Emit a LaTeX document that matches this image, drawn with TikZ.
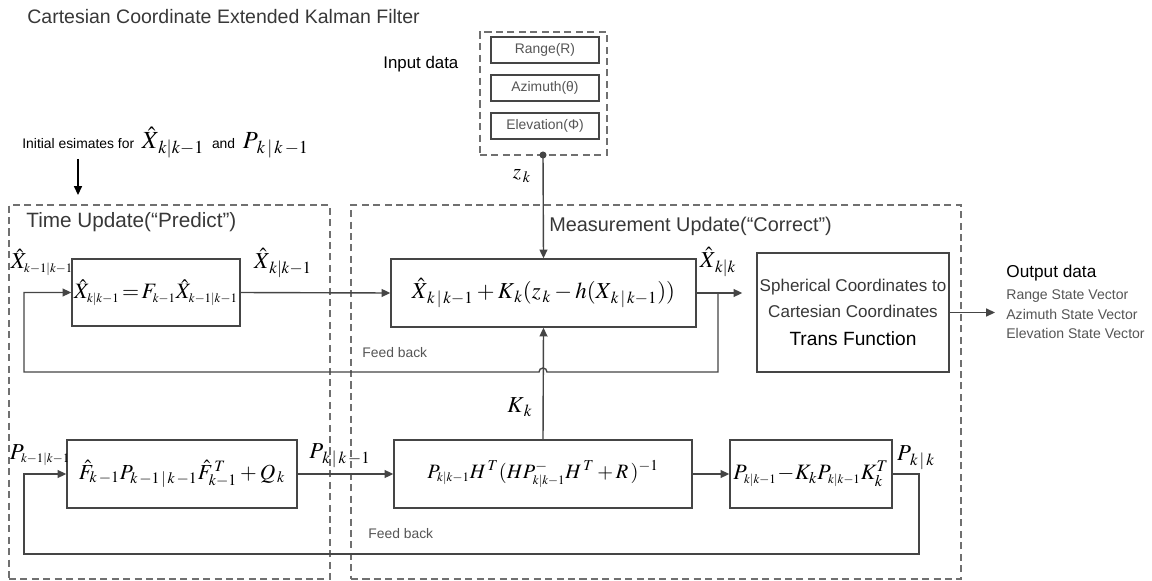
\documentclass[tikz,border=0pt]{standalone}
\usepackage{mathptmx}
\usepackage[no-math]{fontspec}
\setmainfont{Liberation Sans}
\usetikzlibrary{arrows.meta}
\definecolor{lineclr}{HTML}{454545}
\definecolor{grpclr}{HTML}{707070}
\definecolor{headclr}{HTML}{383838}
\definecolor{softclr}{HTML}{555555}
\newcommand{\fsz}[1]{\fontsize{#1}{#1}\selectfont}
\newcommand{\tsub}[1]{\mbox{\fsz{7.3}$#1$}}

\begin{document}
\begin{tikzpicture}[x=0.02cm,y=-0.02cm,>={Triangle[length=5pt,width=4.5pt]},
  blk/.style={draw=lineclr,thick,fill=white,inner sep=0pt},
  grp/.style={draw=grpclr,thick,dash pattern=on 4pt off 2.5pt,inner sep=0pt},
  inbx/.style={draw=lineclr,semithick,inner sep=0pt,minimum width=2.16cm,minimum height=0.52cm,text=softclr,font=\fsz{7.9}},
  link/.style={draw=lineclr,thick,->},
  lbl/.style={inner sep=0pt,font=\fsz{13}},
  head/.style={anchor=west,inner sep=0pt,text=headclr,font=\fsz{11.3}},
  fbtxt/.style={anchor=west,inner sep=0pt,text=softclr,font=\fsz{7.9}},
  outtxt/.style={anchor=west,inner sep=0pt,text=softclr,font=\fsz{8}}]
  \useasboundingbox (0,0) rectangle (1152,581);

  \node[head,font=\fsz{11.1}] (title) at (27,17){Cartesian Coordinate Extended Kalman Filter};

  % input data
  \node[anchor=west,inner sep=0pt,font=\fsz{9.6}] (inlbl) at (383,64){Input data};
  \node[grp,minimum width=2.54cm,minimum height=2.46cm] (inbox) at (543.5,93.5){};
  \node[inbx] (range) at (545,50){Range(R)};
  \node[inbx] (azim) at (545,88){Azimuth(θ)};
  \node[inbx] (elev) at (545,126){Elevation(Φ)};
  \coordinate (zdot) at (543,155);
  \fill[lineclr] (zdot) circle (2pt);
  \node[lbl,font=\fsz{12}] (zlbl) at (522,176){$z_{\,k}$};

  \node[anchor=west,inner sep=0pt,font=\fsz{7.9}] (init) at (22,143){Initial esimates for\ \ {\fsz{14}$\hat{X}_{\,k|k-1}$}\ \ and\ \ {\fsz{14}$P_{\,k\,|\,k\,-1}$}};
  \coordinate (initend) at (78,195);
  \draw[->,thick] (init.south -| initend) -- (initend);

  % update groups
  \node[grp,minimum width=6.42cm,minimum height=7.48cm] (tubox) at (169.5,392){};
  \node[grp,minimum width=12.2cm,minimum height=7.48cm] (mubox) at (656,392){};
  \node[head,font=\fsz{11.8}] (tulbl) at (26,222){Time Update(“Predict”)};
  \node[head] (mulbl) at (549,226){Measurement Update(“Correct”)};

  % state row
  \node[blk,minimum width=3.36cm,minimum height=1.34cm] (predbox) at (156,292.5){\fsz{12.5}$\hat{X}_{\tsub{k|k{-}1}}\!=\!F_{\tsub{k{-}1}}\hat{X}_{\tsub{k{-}1|k{-}1}}$};
  \node[blk,minimum width=6.1cm,minimum height=1.36cm] (measbox) at (543.5,293){\fsz{13}$\hat{X}_{\,k\,|\,k-1}+K_{\,k}(z_{\,k}-h(X_{\,k\,|\,k-1}))$};
  \node[blk,minimum width=3.84cm,minimum height=2.38cm,align=center] (transbox) at (853,312.5){{\fsz{9.7}\color{headclr}Spherical Coordinates to}\\[3pt]{\fsz{9.7}\color{headclr}Cartesian Coordinates}\\[4pt]{\fsz{10.9}Trans Function}};
  \node[lbl] (xprev) at (42,262){$\hat{X}_{\tsub{k{-}1|k{-}1}}$};
  \node[lbl] (xpred) at (283,263){$\hat{X}_{\,k|k-1}$};
  \node[lbl] (xest) at (718,262){$\hat{X}_{\,k|k}$};

  % covariance row
  \node[blk,minimum width=4.6cm,minimum height=1.36cm] (covbox) at (182,474){\fsz{12.2}$\hat{F}_{k\,-1}P_{k\,-1\,|\,k\,-1}\hat{F}^{\,T}_{k-1}+Q_{\,k}$};
  \node[blk,minimum width=5.96cm,minimum height=1.36cm] (gainbox) at (543,474){\fsz{11.6}$P_{\tsub{k|k{-}1}}H^{\,T}(HP^{-}_{\tsub{k|k{-}1}}H^{\,T}+R\,)^{-1}$};
  \node[blk,minimum width=3.24cm,minimum height=1.36cm] (updbox) at (811,474){\fsz{12.5}$P_{\tsub{k|k{-}1}}\!-\!K_kP_{\tsub{k|k{-}1}}K_k^{T}$};
  \node[lbl] (pprev) at (40,455){$P_{\tsub{k{-}1|k{-}1}}$};
  \node[lbl] (ppred) at (340,456){$P_{\,k\,|\,k\,-1}$};
  \node[lbl] (pest) at (916,458){$P_{\,k\,|\,k}$};
  \node[lbl] (gain) at (520,407){$K_{\,k}$};

  \node[fbtxt] (fbtop) at (362,353){Feed back};
  \node[fbtxt] (fbbot) at (368,534){Feed back};

  % connectors
  \draw[link] (zdot) -- (measbox.north);
  \draw[link] (predbox.east) -- (measbox.west);
  \draw[link] (measbox.east) -- ([xshift=-0.28cm]measbox.east -| transbox.west);
  \coordinate (sfork) at (718,372);
  \coordinate (shop) at (543,372);
  \coordinate (sback) at (24,372);
  \draw[link] (measbox.east -| sfork) -- (sfork) -- ([xshift=0.08cm]shop) arc[start angle=0,end angle=180,radius=0.08cm] -- (sback) |- (predbox.west);
  \draw[link] (gainbox.north) -- (measbox.south);
  \coordinate (outend) at (995,312.5);
  \draw[link] (transbox.east) -- (outend);

  \draw[link] (covbox.east) -- (gainbox.west);
  \draw[link] (gainbox.east) -- (updbox.west);
  \coordinate (pfork) at (919,474);
  \coordinate (pdown) at (919,554);
  \coordinate (pback) at (24,554);
  \draw[link] (updbox.east) -- (pfork) -- (pdown) -- (pback) |- (covbox.west);

  % output data
  \node[anchor=west,inner sep=0pt,font=\fsz{9.8}] (outlbl) at (1006,273){Output data};
  \node[outtxt] (outr) at (1006,296){Range State Vector};
  \node[outtxt] (outa) at (1006,314){Azimuth State Vector};
  \node[outtxt] (oute) at (1006,333){Elevation State Vector};
\end{tikzpicture}
\end{document}
